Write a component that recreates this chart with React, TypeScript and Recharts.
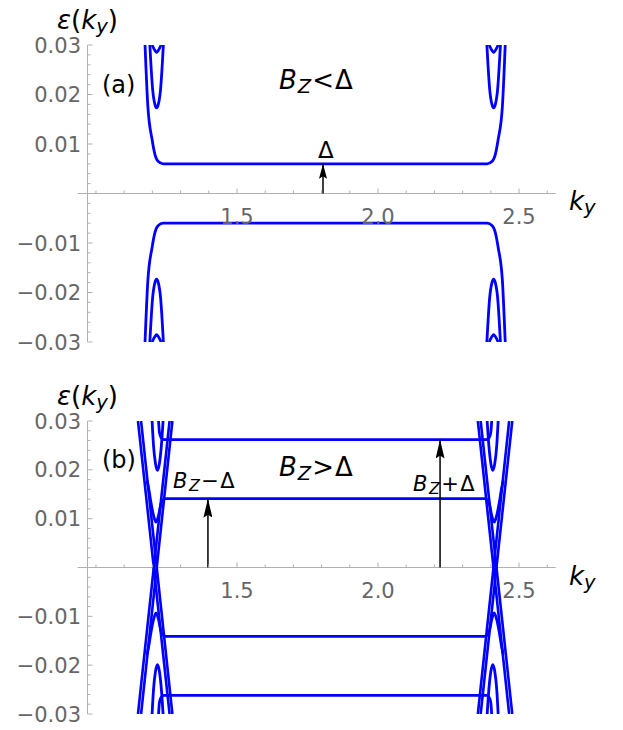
import { LineChart, Line, XAxis, YAxis, ReferenceLine } from "recharts";

const BLUE = "#0000ff";
const AXIS = "#b0b0b0";
const TICK_TEXT = "#666666";
const FONT = "'DejaVu Sans', sans-serif";

// axis ticks
const K_TICKS = [1.0, 1.1, 1.2, 1.3, 1.4, 1.5, 1.6, 1.7, 1.8, 1.9, 2.0, 2.1, 2.2, 2.3, 2.4, 2.5, 2.6];
const K_LABELS = [1.5, 2.0, 2.5];
const E_TICKS = [
  -0.03, -0.028, -0.026, -0.024, -0.022, -0.02, -0.018, -0.016, -0.014, -0.012, -0.01,
  -0.008, -0.006, -0.004, -0.002, 0.002, 0.004, 0.006, 0.008, 0.01, 0.012, 0.014, 0.016,
  0.018, 0.02, 0.022, 0.024, 0.026, 0.028, 0.03,
];
const E_LABELS = [-0.03, -0.02, -0.01, 0.01, 0.02, 0.03];

// panel (a): B_Z < Delta   points are [k_y, energy]
const A_GAP_UP = [[1.174, 0.03], [1.184, 0.0176], [1.199, 0.0109], [1.209, 0.0079], [1.22, 0.0065], [1.238, 0.006], [2.387, 0.006], [2.405, 0.0065], [2.416, 0.0079], [2.426, 0.0109], [2.441, 0.0176], [2.451, 0.03]];
const A_GAP_DN = [[1.174, -0.03], [1.184, -0.0176], [1.199, -0.0109], [1.209, -0.0079], [1.22, -0.0065], [1.238, -0.006], [2.387, -0.006], [2.405, -0.0065], [2.416, -0.0079], [2.426, -0.0109], [2.441, -0.0176], [2.451, -0.03]];
const A_CUP_L = [[1.191, 0.03], [1.201, 0.021], [1.209, 0.018], [1.215, 0.0173], [1.221, 0.018], [1.229, 0.021], [1.239, 0.03]];
const A_CUP_R = [[2.386, 0.03], [2.396, 0.021], [2.404, 0.018], [2.41, 0.0173], [2.416, 0.018], [2.424, 0.021], [2.434, 0.03]];
const A_CAP_L = [[1.191, -0.03], [1.201, -0.021], [1.209, -0.018], [1.215, -0.0173], [1.221, -0.018], [1.229, -0.021], [1.239, -0.03]];
const A_CAP_R = [[2.386, -0.03], [2.396, -0.021], [2.404, -0.018], [2.41, -0.0173], [2.416, -0.018], [2.424, -0.021], [2.434, -0.03]];
const A_TIP_UP_L = [[1.199, 0.03], [1.209, 0.0289], [1.215, 0.0285], [1.221, 0.0289], [1.231, 0.03]];
const A_TIP_UP_R = [[2.394, 0.03], [2.404, 0.0289], [2.41, 0.0285], [2.416, 0.0289], [2.426, 0.03]];
const A_TIP_DN_L = [[1.199, -0.03], [1.209, -0.0289], [1.215, -0.0285], [1.221, -0.0289], [1.231, -0.03]];
const A_TIP_DN_R = [[2.394, -0.03], [2.404, -0.0289], [2.41, -0.0285], [2.416, -0.0289], [2.426, -0.03]];
const A_ARROW = [1.805, 0.006];

// panel (b): B_Z > Delta
const B_X1 = [[1.149, 0.03], [1.261, -0.03]];
const B_X2 = [[1.16, 0.03], [1.271, -0.03]];
const B_X3 = [[1.149, -0.03], [1.261, 0.03]];
const B_X4 = [[1.16, -0.03], [1.271, 0.03]];
const B_X5 = [[2.354, 0.03], [2.465, -0.03]];
const B_X6 = [[2.364, 0.03], [2.476, -0.03]];
const B_X7 = [[2.354, -0.03], [2.465, 0.03]];
const B_X8 = [[2.364, -0.03], [2.476, 0.03]];
const B_OUTER_UP = [[1.222, 0.03], [1.225, 0.0277], [1.231, 0.0266], [1.241, 0.0262], [2.384, 0.0262], [2.394, 0.0266], [2.4, 0.0277], [2.403, 0.03]];
const B_OUTER_DN = [[1.222, -0.03], [1.225, -0.0277], [1.231, -0.0266], [1.241, -0.0262], [2.384, -0.0262], [2.394, -0.0266], [2.4, -0.0277], [2.403, -0.03]];
const B_INNER_UP = [[1.181, 0.0178], [1.188, 0.0158], [1.195, 0.0133], [1.204, 0.0107], [1.213, 0.0093], [1.222, 0.0107], [1.229, 0.0127], [1.236, 0.0138], [1.248, 0.0141], [2.377, 0.0141], [2.389, 0.0138], [2.396, 0.0127], [2.403, 0.0107], [2.412, 0.0093], [2.421, 0.0107], [2.43, 0.0133], [2.437, 0.0158], [2.444, 0.0178]];
const B_INNER_DN = [[1.181, -0.0178], [1.188, -0.0158], [1.195, -0.0133], [1.204, -0.0107], [1.213, -0.0093], [1.222, -0.0107], [1.229, -0.0127], [1.236, -0.0138], [1.248, -0.0141], [2.377, -0.0141], [2.389, -0.0138], [2.396, -0.0127], [2.403, -0.0107], [2.412, -0.0093], [2.421, -0.0107], [2.43, -0.0133], [2.437, -0.0158], [2.444, -0.0178]];
const B_CUP_L = [[1.199, 0.03], [1.204, 0.025], [1.211, 0.0213], [1.218, 0.0199], [1.225, 0.0213], [1.232, 0.025], [1.238, 0.03]];
const B_CUP_R = [[2.387, 0.03], [2.393, 0.025], [2.4, 0.0213], [2.407, 0.0199], [2.414, 0.0213], [2.421, 0.025], [2.426, 0.03]];
const B_CAP_L = [[1.199, -0.03], [1.204, -0.025], [1.211, -0.0213], [1.218, -0.0199], [1.225, -0.0213], [1.232, -0.025], [1.238, -0.03]];
const B_CAP_R = [[2.387, -0.03], [2.393, -0.025], [2.4, -0.0213], [2.407, -0.0199], [2.414, -0.0213], [2.421, -0.025], [2.426, -0.03]];
const B_ARROW_L = [1.397, 0.0141];
const B_ARROW_R = [2.22, 0.0262];

const A_CURVES = [A_GAP_UP, A_GAP_DN, A_CUP_L, A_CUP_R, A_CAP_L, A_CAP_R, A_TIP_UP_L, A_TIP_UP_R, A_TIP_DN_L, A_TIP_DN_R];
const B_CURVES = [B_OUTER_UP, B_OUTER_DN, B_INNER_UP, B_INNER_DN, B_CUP_L, B_CUP_R, B_CAP_L, B_CAP_R];
const B_CROSS = [B_X1, B_X2, B_X3, B_X4, B_X5, B_X6, B_X7, B_X8];

const toPts = (arr: number[][]) => arr.map(([k, e]) => ({ k, e }));
const fmtE = (v: number) => (v < 0 ? "\u2212" : "") + Math.abs(v).toFixed(2);

const makeXTick = (plotH: number) => (props: any) => {
  const { x, y, payload } = props;
  const v = payload.value;
  const y0 = y - plotH / 2;
  const major = K_LABELS.includes(v);
  return (
    <g>
      <line x1={x} x2={x} y1={y0} y2={y0 - (major ? 5 : 3)} stroke={AXIS} strokeWidth={1} />
      {major && (
        <text x={x} y={y0 + 30} textAnchor="middle" fontSize={21} fontFamily={FONT} fill={TICK_TEXT}>
          {v.toFixed(1)}
        </text>
      )}
    </g>
  );
};

const yTick = (props: any) => {
  const { x, y, payload } = props;
  const v = payload.value;
  const major = E_LABELS.includes(v);
  return (
    <g>
      <line x1={x} x2={x + (major ? 5 : 3)} y1={y} y2={y} stroke={AXIS} strokeWidth={1} />
      {major && (
        <text x={x - 6.5} y={y + 7.6} textAnchor="end" fontSize={21} fontFamily={FONT} fill={TICK_TEXT}>
          {fmtE(v)}
        </text>
      )}
    </g>
  );
};

function Panel({ height, top, curves, cross, arrows, marker }: any) {
  const bottom = 12;
  const plotH = height - top - bottom - 2;
  return (
    <LineChart width={615} height={height} margin={{ top, right: 67.3, bottom, left: 0 }}>
      <XAxis
        type="number" dataKey="k" domain={[0.97, 2.63]} ticks={K_TICKS} interval={0}
        tick={makeXTick(plotH)} tickLine={false} axisLine={false} tickSize={0} tickMargin={0}
        height={2} allowDataOverflow
      />
      <YAxis
        type="number" domain={[-0.03, 0.03]} ticks={E_TICKS} interval={0} width={79.5}
        tick={yTick} tickLine={false} axisLine={{ stroke: AXIS }} tickSize={0} tickMargin={0}
        allowDataOverflow
      />
      <ReferenceLine segment={[{ x: 0.935, y: 0 }, { x: 2.63, y: 0 }]} stroke={AXIS} ifOverflow="visible" />
      {curves.map((c: number[][], i: number) => (
        <Line key={"c" + i} data={toPts(c)} dataKey="e" type="monotone" stroke={BLUE} strokeWidth={2.8}
          dot={false} activeDot={false} isAnimationActive={false} />
      ))}
      {cross.map((c: number[][], i: number) => (
        <Line key={"x" + i} data={toPts(c)} dataKey="e" type="linear" stroke={BLUE} strokeWidth={2.6}
          dot={false} activeDot={false} isAnimationActive={false} />
      ))}
      {arrows.map((a: number[], i: number) => (
        <ReferenceLine key={"a" + i} segment={[{ x: a[0], y: 0 }, { x: a[0], y: a[1] }]} stroke="#000"
          strokeWidth={1.5} markerEnd={`url(#${marker})`} ifOverflow="visible" />
      ))}
    </LineChart>
  );
}

function Tex({ left, top, size, spacing = 0, children }: any) {
  return (
    <div style={{ position: "absolute", left, top, fontSize: size, lineHeight: 1, whiteSpace: "nowrap", letterSpacing: spacing }}>
      {children}
    </div>
  );
}
const It = ({ children }: any) => <span style={{ fontStyle: "italic" }}>{children}</span>;
const Sub = ({ children }: any) => (
  <span style={{ fontSize: "0.75em", fontStyle: "italic", position: "relative", top: "0.22em" }}>{children}</span>
);

export default function App() {
  return (
    <div style={{ position: "relative", width: 615, height: 722, fontFamily: FONT, color: "#000" }}>
      <svg width={0} height={0} style={{ position: "absolute" }}>
        <defs>
          <marker id="arrA" viewBox="0 0 15 8" refX="15" refY="4" markerWidth="15" markerHeight="8" markerUnits="userSpaceOnUse" orient="auto">
            <path d="M0,0 L15,4 L0,8 L2.5,4 z" fill="#000" />
          </marker>
          <marker id="arrB" viewBox="0 0 19 9" refX="19" refY="4.5" markerWidth="19" markerHeight="9" markerUnits="userSpaceOnUse" orient="auto">
            <path d="M0,0 L19,4.5 L0,9 L3,4.5 z" fill="#000" />
          </marker>
        </defs>
      </svg>
      <div style={{ position: "absolute", left: 0, top: 0 }}>
        <Panel height={348} top={37} curves={A_CURVES} cross={[]} arrows={[A_ARROW]} marker="arrA" />
      </div>
      <div style={{ position: "absolute", left: 0, top: 352 }}>
        <Panel height={368} top={61} curves={B_CURVES} cross={B_CROSS} arrows={[B_ARROW_L, B_ARROW_R]} marker="arrB" />
      </div>

      <Tex left={49} top={-1} size={26}><It>ε</It>(<It>k</It><Sub>y</Sub>)</Tex>
      <Tex left={561} top={180} size={26}><It>k</It><Sub>y</Sub></Tex>
      <Tex left={94} top={65} size={24}>(a)</Tex>
      <Tex left={271} top={59} size={26} spacing={1}><It>B</It><Sub>Z</Sub>&lt;Δ</Tex>
      <Tex left={310} top={131} size={23}>Δ</Tex>

      <Tex left={49} top={375} size={26}><It>ε</It>(<It>k</It><Sub>y</Sub>)</Tex>
      <Tex left={561} top={555} size={26}><It>k</It><Sub>y</Sub></Tex>
      <Tex left={94} top={440} size={24}>(b)</Tex>
      <Tex left={271} top={446} size={26} spacing={1}><It>B</It><Sub>Z</Sub>&gt;Δ</Tex>
      <Tex left={165} top={463} size={21} spacing={1.5}><It>B</It><Sub>Z</Sub>−Δ</Tex>
      <Tex left={405} top={466} size={21} spacing={1.5}><It>B</It><Sub>Z</Sub>+Δ</Tex>
    </div>
  );
}
